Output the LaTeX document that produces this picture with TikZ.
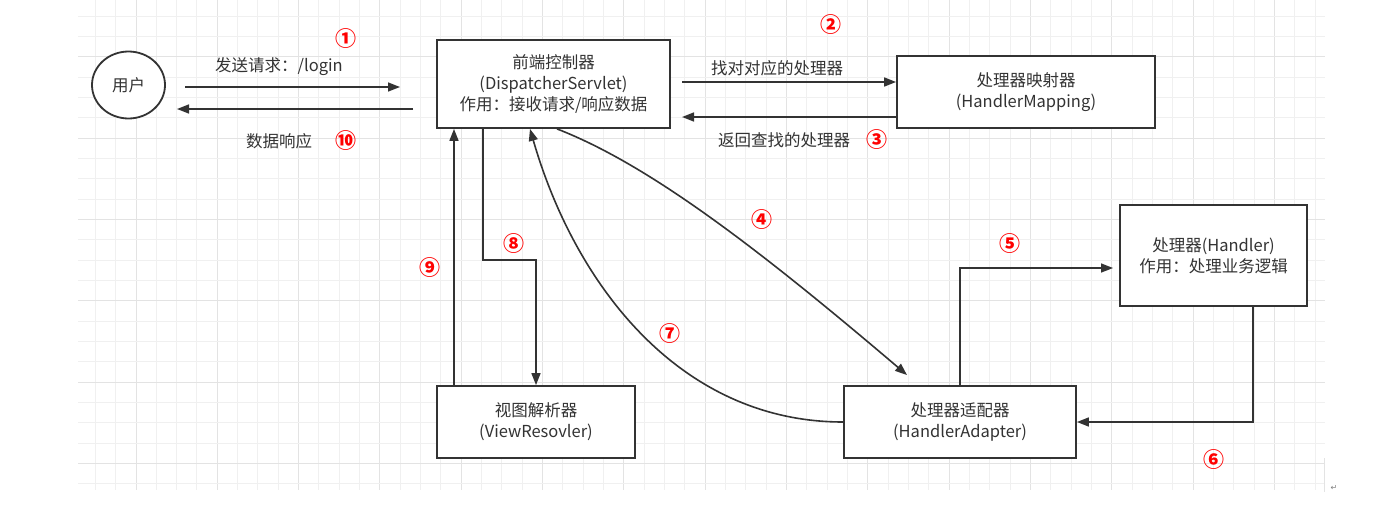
\documentclass[tikz,border=0pt]{standalone}
\usepackage{fontspec}
\setmainfont{Noto Sans CJK SC}
\newfontfamily\symfont{DejaVu Sans}
\usetikzlibrary{arrows.meta,shapes.geometric}
\definecolor{linec}{HTML}{333333}
\definecolor{textc}{HTML}{333333}
\definecolor{numc}{HTML}{FF0000}
\definecolor{gridminor}{HTML}{F0F0F0}
\definecolor{gridmajor}{HTML}{E3E3E3}
\tikzset{
  box/.style={draw=linec, line width=1.8pt, fill=white, inner sep=0pt, align=center,
    text=textc, font=\fontsize{16.5}{21}\selectfont},
  lbl/.style={text=textc, inner sep=0pt, font=\fontsize{16.5}{21}\selectfont},
  num/.style={text=numc, inner sep=0pt, font=\fontsize{21}{22}\selectfont\bfseries},
  arr/.style={draw=linec, line width=1.6pt, -{Triangle[length=12pt,width=9pt]}},
}
\begin{document}
\begin{tikzpicture}[x=1pt,y=-1pt]
\useasboundingbox (0,0) rectangle (1378,506);
\fill[white] (0,0) rectangle (1378,506);
% grid
\foreach \k in {-2,...,58}{
  \pgfmathtruncatemacro{\m}{mod(\k+400,4)}
  \ifnum\m=0 \def\gc{gridmajor}\else\def\gc{gridminor}\fi
  \draw[\gc, line width=1pt] ({136+20.33*\k},0) -- ({136+20.33*\k},490);
}
\foreach \k in {-10,...,13}{
  \pgfmathtruncatemacro{\m}{mod(\k+400,4)}
  \ifnum\m=0 \def\gc{gridmajor}\else\def\gc{gridminor}\fi
  \draw[\gc, line width=1pt] (78,{219.5+20.33*\k}) -- (1325,{219.5+20.33*\k});
}
\draw[gridmajor, line width=1pt] (1324,458) -- (1324,492);
\node[text=gray, inner sep=0pt, font=\symfont\fontsize{8}{9}\selectfont] (ret) at (1334,488) {↵};

% nodes
\node[box, ellipse, minimum width=73pt, minimum height=67pt] (user) at (128.5,85) {用户};
\node[box, minimum width=233pt, minimum height=88pt] (fc) at (553.5,84) {前端控制器\\(DispatcherServlet)\\作用：接收请求/响应数据};
\node[box, minimum width=258pt, minimum height=72pt] (hm) at (1026,92) {处理器映射器\\(HandlerMapping)};
\node[box, minimum width=198pt, minimum height=72pt] (vr) at (536,422) {视图解析器\\(ViewResovler)};
\node[box, minimum width=232pt, minimum height=72pt] (ha) at (960,422) {处理器适配器\\(HandlerAdapter)};
\node[box, minimum width=187pt, minimum height=101pt] (hd) at (1213.5,255.5) {处理器(Handler)\\作用：处理业务逻辑};

% free ends
\coordinate (a1s) at (185,87);
\coordinate (a1e) at (400,87);
\coordinate (a10s) at (413,109);
\coordinate (a10e) at (177,109);
\coordinate (a2s) at (682,82);
\coordinate (a3e) at (682,117);
\coordinate (a4e) at (907,375);
\coordinate (a5e) at (1113,268);
\coordinate (a9s) at (454,386);

% connectors
\draw[arr] (a1s) -- (a1e);
\draw[arr] (a10s) -- (a10e);
\draw[arr] (a2s) -- ([yshift=10pt]hm.west);
\draw[arr] ([yshift=-25pt]hm.west) -- (a3e);
\draw[arr] ([xshift=3.5pt]fc.south) .. controls (650,165) and (760,250) .. (a4e);
\draw[arr] (ha.north) |- (a5e);
\draw[arr] ([xshift=39.5pt]hd.south) |- (ha.east);
\draw[arr] (ha.west) .. controls (680,422) and (575,285) .. ([xshift=-23.5pt]fc.south);
\draw[arr] ([xshift=-70.5pt]fc.south) -- ++(0,131) -| (vr.north);
\draw[arr] (a9s) -- (a9s |- fc.south);

% labels
\node[lbl] (l1) at (279,67) {发送请求：/login};
\node[lbl] (l10) at (279,141) {数据响应};
\node[lbl] (l2) at (777,68) {找对对应的处理器};
\node[lbl] (l3) at (784,140) {返回查找的处理器};

% numbers
\node[num] (n1) at (346,39) {①};
\node[num] (n2) at (831,25) {②};
\node[num] (n3) at (877,140) {③};
\node[num] (n4) at (762,220) {④};
\node[num] (n5) at (1010,244) {⑤};
\node[num] (n6) at (1214,460) {⑥};
\node[num] (n7) at (670,334) {⑦};
\node[num] (n8) at (514,244) {⑧};
\node[num] (n9) at (430,268) {⑨};
\node[num] (n10) at (346,141) {⑩};
\end{tikzpicture}
\end{document}
